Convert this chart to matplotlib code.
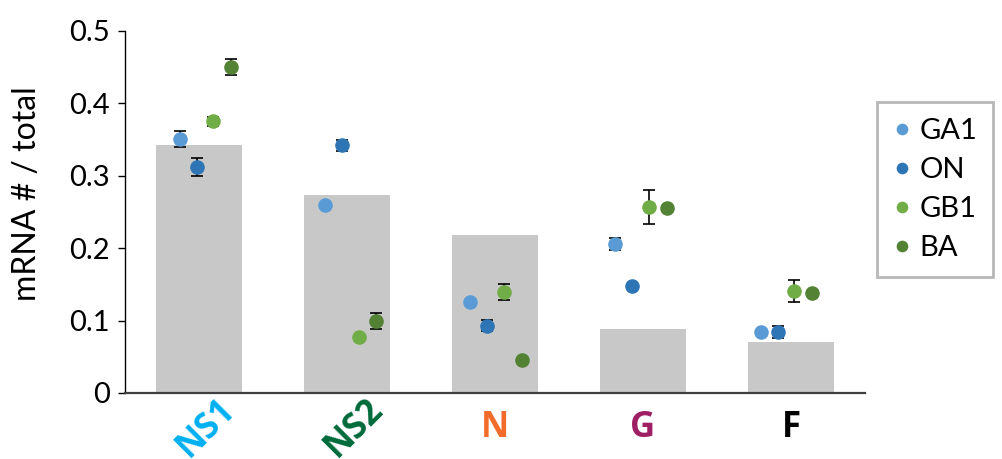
import numpy as np
import matplotlib
matplotlib.use('Agg')
import matplotlib.pyplot as plt
import matplotlib.transforms as mtransforms

plt.rcParams['font.family'] = ['Lato', 'DejaVu Sans']

# mRNA fraction per gene, bar = total, dots = per strain
categories = ['NS1', 'NS2', 'N', 'G', 'F']
cat_colors = ['#00B0F0', '#006A3A', '#F26B2A', '#9E1F63', '#000000']
total = [0.342, 0.273, 0.218, 0.088, 0.071]

strains = ['GA1', 'ON', 'GB1', 'BA']
strain_colors = ['#5B9BD5', '#2E75B6', '#70AD47', '#548235']
GA1 = [0.351, 0.259, 0.125, 0.206, 0.084]
ON = [0.312, 0.342, 0.093, 0.148, 0.084]
GB1 = [0.375, 0.078, 0.139, 0.257, 0.141]
BA = [0.450, 0.099, 0.046, 0.255, 0.138]
GA1_err = [0.011, 0.0, 0.0, 0.008, 0.0]
ON_err = [0.012, 0.008, 0.008, 0.0, 0.008]
GB1_err = [0.006, 0.0, 0.011, 0.024, 0.015]
BA_err = [0.011, 0.011, 0.0, 0.0, 0.0]

values = [GA1, ON, GB1, BA]
errors = [GA1_err, ON_err, GB1_err, BA_err]
offsets = [-0.129, -0.014, 0.097, 0.218]

fig = plt.figure(figsize=(10.03, 4.59), dpi=100)
ax = fig.add_axes([0.1246, 0.1438, 0.7378, 0.7887])

x = np.arange(len(categories))
ax.bar(x, total, width=0.58, color='#C8C8C8', zorder=1)

for name, vals, errs, off, col in zip(strains, values, errors, offsets, strain_colors):
    xs = x * 0.981 + off
    ax.errorbar(xs, vals, yerr=errs, fmt='none', ecolor='black',
                elinewidth=1.2, capsize=4, capthick=1.2, zorder=2)
    ax.plot(xs, vals, 'o', color=col, markersize=10.5, markeredgewidth=0,
            linestyle='none', label=name, zorder=3)

ax.set_xlim(-0.5, 4.5)
ax.set_ylim(0, 0.5)
ax.set_yticks([0, 0.1, 0.2, 0.3, 0.4, 0.5])
ax.set_yticklabels(['0', '0.1', '0.2', '0.3', '0.4', '0.5'])
ax.tick_params(axis='y', labelsize=21, length=5, width=1, pad=6, color='black')
ax.tick_params(axis='x', length=0, pad=12)

ax.set_xticks(x)
ax.set_xticklabels(categories)
shift = mtransforms.ScaledTranslation(7 / 100, 18 / 100, fig.dpi_scale_trans)
for lbl, col, name in zip(ax.get_xticklabels(), cat_colors, categories):
    lbl.set_color(col)
    lbl.set_fontfamily('Open Sans')
    lbl.set_fontweight('bold')
    lbl.set_fontsize(25)
    if name in ('NS1', 'NS2'):
        lbl.set_rotation(45)
        lbl.set_transform(lbl.get_transform() + shift)

ax.set_ylabel('mRNA # / total', fontsize=23)
ax.yaxis.set_label_coords(-0.112, 0.55)

for side in ('top', 'right'):
    ax.spines[side].set_visible(False)
ax.spines['left'].set_linewidth(1.0)
ax.spines['left'].set_color('black')
ax.spines['bottom'].set_linewidth(1.6)
ax.spines['bottom'].set_color('#404040')

leg = fig.legend(loc='upper left', bbox_to_anchor=(877 / 1003, 1 - 102 / 459),
                 fontsize=21, frameon=True, fancybox=False, markerscale=0.8,
                 handlelength=0.6, handletextpad=0.3, labelspacing=0.45,
                 borderpad=0.55, borderaxespad=0)
leg.get_frame().set_edgecolor('#A6A6A6')
leg.get_frame().set_linewidth(2)

fig.savefig('out.png', dpi=100)
